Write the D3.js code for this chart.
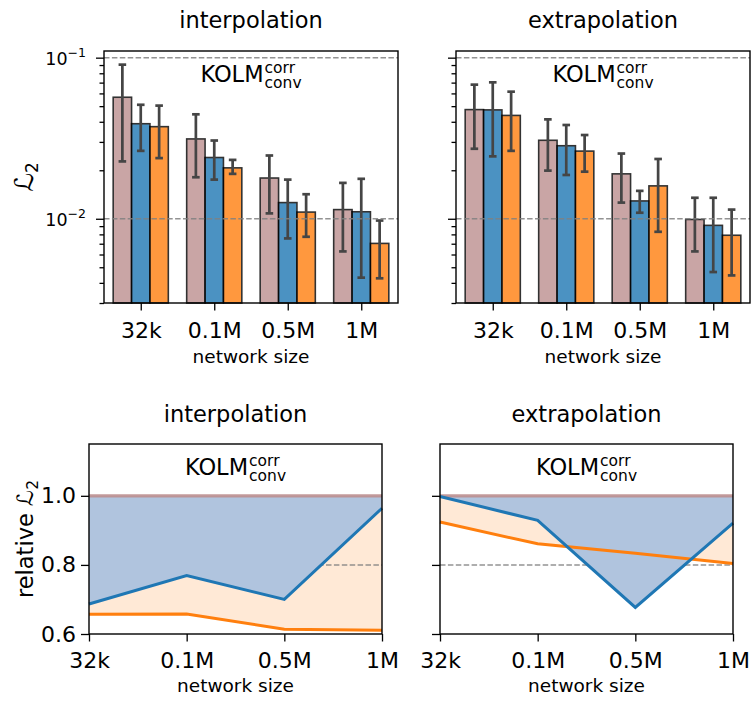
<!DOCTYPE html>
<html>
<head>
<meta charset="utf-8">
<script src="https://cdn.jsdelivr.net/npm/d3@7"></script>
<style>
  body { margin: 0; background: #fff; }
  svg text { font-family: "DejaVu Sans", sans-serif; fill: #000; }
</style>
</head>
<body>
<svg id="fig" width="751" height="702"></svg>
<script>
// categories and tick labels
const categories = ["32k", "0.1M", "0.5M", "1M"];
const logMajorTicks = [0.01, 0.1];
const logMajorLabels = ["−2", "−1"];
const logMinorTicks = [0.003, 0.004, 0.005, 0.006, 0.007, 0.008, 0.009,
                       0.02, 0.03, 0.04, 0.05, 0.06, 0.07, 0.08, 0.09];
const relTicks = [0.6, 0.8, 1.0];

// interpolation, L2 error (bar height) and error-bar range [lo, hi]
const interpRosy = [0.0568, 0.0313, 0.0179, 0.0114];
const interpRosyErr = [[0.0227, 0.0905], [0.0181, 0.0445], [0.0108, 0.0247], [0.00627, 0.0167]];
const interpBlue = [0.0389, 0.0240, 0.0126, 0.01105];
const interpBlueErr = [[0.0264, 0.0510], [0.0175, 0.0306], [0.00755, 0.0175], [0.00431, 0.0177]];
const interpOrange = [0.0373, 0.0207, 0.0110, 0.00703];
const interpOrangeErr = [[0.0238, 0.0504], [0.0190, 0.0232], [0.00773, 0.0142], [0.00427, 0.00975]];

// extrapolation
const extrapRosy = [0.0476, 0.0307, 0.0190, 0.0099];
const extrapRosyErr = [[0.0272, 0.0680], [0.0199, 0.0414], [0.0126, 0.0254], [0.00627, 0.0135]];
const extrapBlue = [0.0474, 0.0284, 0.0129, 0.0091];
const extrapBlueErr = [[0.0244, 0.0703], [0.0187, 0.0382], [0.0109, 0.0149], [0.00467, 0.0135]];
const extrapOrange = [0.0438, 0.0263, 0.0160, 0.0079];
const extrapOrangeErr = [[0.0264, 0.0615], [0.0196, 0.0331], [0.0083, 0.0235], [0.00445, 0.0114]];

// relative L2 (ratio to the rosy series)
const relRosy = [1.0, 1.0, 1.0, 1.0];
const relInterpBlue = [0.687, 0.769, 0.700, 0.964];
const relInterpOrange = [0.657, 0.658, 0.614, 0.611];
const relExtrapBlue = [0.998, 0.929, 0.677, 0.921];
const relExtrapOrange = [0.924, 0.861, 0.834, 0.804];

const rosy = "#bc8f8f", blue = "#1f77b4", orange = "#ff7f0e";
const dashColor = "#808080";

const svg = d3.select("#fig");

// panel boxes
const boxTL = { x0: 104, x1: 398, y0: 51, y1: 303 };
const boxTR = { x0: 456, x1: 750, y0: 51, y1: 303 };
const boxBL = { x0: 89, x1: 382, y0: 444, y1: 634 };
const boxBR = { x0: 440, x1: 733, y0: 444, y1: 634 };

// "KOLM" with stacked super/subscripts, centred in the panel
function kolmLabel(box) {
  const t = svg.append("text")
    .attr("y", box.y0 + 31)
    .style("font-size", "22.5px")
    .text("KOLM");
  const w = t.node().getComputedTextLength();
  const sup = svg.append("text").attr("y", box.y0 + 21.5)
    .style("font-size", "15.5px").text("corr");
  const sub = svg.append("text").attr("y", box.y0 + 36.5)
    .style("font-size", "15.5px").text("conv");
  const sw = Math.max(sup.node().getComputedTextLength(), sub.node().getComputedTextLength());
  const left = (box.x0 + box.x1) / 2 - (w + 1 + sw) / 2;
  t.attr("x", left);
  sup.attr("x", left + w + 1);
  sub.attr("x", left + w + 1);
}

function frame(box) {
  svg.append("rect")
    .attr("x", box.x0).attr("y", box.y0)
    .attr("width", box.x1 - box.x0).attr("height", box.y1 - box.y0)
    .attr("fill", "none").attr("stroke", "#000").attr("stroke-width", 1.4);
}

function title(box, text, baseline) {
  svg.append("text")
    .attr("x", (box.x0 + box.x1) / 2).attr("y", baseline)
    .attr("text-anchor", "middle")
    .style("font-size", "22.5px")
    .text(text);
}

function xLabel(box, baseline) {
  svg.append("text")
    .attr("x", (box.x0 + box.x1) / 2).attr("y", baseline)
    .attr("text-anchor", "middle")
    .style("font-size", "18.5px")
    .text("network size");
}

function styleAxis(g, fontSize) {
  g.select(".domain").remove();
  g.selectAll(".tick line").attr("stroke", "#000").attr("stroke-width", 1.3);
  g.selectAll(".tick text").style("font-size", fontSize).attr("font-family", null);
}

function barPanel(box, series, name, showY) {
  const x = d3.scaleLinear().domain([-0.5, 3.5]).range([box.x0, box.x1]);
  const y = d3.scaleLog().domain([0.003, 0.11]).range([box.y1, box.y0]);
  const offsets = [-0.25, 0, 0.25];
  const bw = x(0.25) - x(0);

  series.forEach((s, i) => {
    svg.append("g").selectAll("rect")
      .data(s.values)
      .enter().append("rect")
      .attr("x", (d, j) => x(j + offsets[i]) - bw / 2)
      .attr("width", bw)
      .attr("y", d => y(d))
      .attr("height", d => box.y1 - y(d))
      .attr("fill", s.color)
      .attr("stroke", "#000")
      .attr("stroke-width", 1.6)
      .attr("opacity", 0.8);
  });

  series.forEach((s, i) => {
    const eg = svg.append("g").attr("stroke", "#454545").attr("stroke-width", 2.7);
    s.err.forEach((e, j) => {
      const cx = x(j + offsets[i]);
      eg.append("line").attr("x1", cx).attr("x2", cx).attr("y1", y(e[0])).attr("y2", y(e[1]));
      eg.append("line").attr("x1", cx - 3.8).attr("x2", cx + 3.8).attr("y1", y(e[0])).attr("y2", y(e[0]));
      eg.append("line").attr("x1", cx - 3.8).attr("x2", cx + 3.8).attr("y1", y(e[1])).attr("y2", y(e[1]));
    });
  });

  svg.append("g").selectAll("line")
    .data(logMajorTicks)
    .enter().append("line")
    .attr("x1", box.x0).attr("x2", box.x1)
    .attr("y1", d => y(d)).attr("y2", d => y(d))
    .attr("stroke", dashColor).attr("stroke-opacity", 0.85)
    .attr("stroke-width", 1.5).attr("stroke-dasharray", "5.5,2.4");

  const gx = svg.append("g")
    .attr("transform", `translate(0,${box.y1})`)
    .call(d3.axisBottom(x).tickValues([0, 1, 2, 3])
      .tickFormat(i => categories[i]).tickSize(7.5).tickPadding(12));
  styleAxis(gx, "22px");

  const gy = svg.append("g")
    .attr("transform", `translate(${box.x0},0)`)
    .call(d3.axisLeft(y).tickValues(logMajorTicks).tickFormat("").tickSize(8));
  styleAxis(gy, "17px");
  const gm = svg.append("g")
    .attr("transform", `translate(${box.x0},0)`)
    .call(d3.axisLeft(y).tickValues(logMinorTicks).tickFormat("").tickSize(4.5));
  styleAxis(gm, "17px");

  if (showY) {
    logMajorTicks.forEach((t, k) => {
      const lbl = svg.append("text")
        .attr("x", box.x0 - 18).attr("y", y(t) + 7)
        .attr("text-anchor", "end")
        .style("font-size", "17.5px");
      lbl.append("tspan").text("10");
      lbl.append("tspan").attr("dy", -7.5).style("font-size", "12.5px").text(logMajorLabels[k]);
    });
    svg.append("text")
      .attr("transform", `translate(33,${(box.y0 + box.y1) / 2}) rotate(-90)`)
      .attr("text-anchor", "middle")
      .style("font-size", "26px")
      .call(t => {
        t.append("tspan").text("ℒ");
        t.append("tspan").attr("dy", 5).style("font-size", "17px").text("2");
      });
  }

  frame(box);
  kolmLabel(box);
  title(box, name, 28);
  xLabel(box, 363);
}

function relPanel(box, blueVals, orangeVals, name, showY) {
  const x = d3.scaleLinear().domain([0, 3]).range([box.x0, box.x1]);
  const y = d3.scaleLinear().domain([0.6, 1.15]).range([box.y1, box.y0]);
  const idx = [0, 1, 2, 3];

  const orangeArea = d3.area()
    .x(i => x(i)).y0(i => y(blueVals[i])).y1(i => y(orangeVals[i]));
  svg.append("path").datum(idx).attr("d", orangeArea)
    .attr("fill", orange).attr("fill-opacity", 0.17);

  svg.append("line")
    .attr("x1", box.x0).attr("x2", box.x1)
    .attr("y1", y(0.8)).attr("y2", y(0.8))
    .attr("stroke", dashColor).attr("stroke-opacity", 0.85)
    .attr("stroke-width", 1.5).attr("stroke-dasharray", "5.5,2.4");

  const blueArea = d3.area()
    .x(i => x(i)).y0(i => y(relRosy[i])).y1(i => y(blueVals[i]));
  svg.append("path").datum(idx).attr("d", blueArea)
    .attr("fill", "#b0c4de");

  const line = vals => d3.line().x(i => x(i)).y(i => y(vals[i]))(idx);
  svg.append("path").attr("d", line(relRosy))
    .attr("fill", "none").attr("stroke", rosy).attr("stroke-width", 3.2).attr("stroke-opacity", 0.9);
  svg.append("path").attr("d", line(orangeVals))
    .attr("fill", "none").attr("stroke", orange).attr("stroke-width", 3);
  svg.append("path").attr("d", line(blueVals))
    .attr("fill", "none").attr("stroke", blue).attr("stroke-width", 3);

  const gx = svg.append("g")
    .attr("transform", `translate(0,${box.y1})`)
    .call(d3.axisBottom(x).tickValues(idx)
      .tickFormat(i => categories[i]).tickSize(7.5).tickPadding(11));
  styleAxis(gx, "22px");

  const gy = svg.append("g")
    .attr("transform", `translate(${box.x0},0)`)
    .call(d3.axisLeft(y).tickValues(relTicks)
      .tickFormat(showY ? d3.format(".1f") : "").tickSize(8).tickPadding(5));
  styleAxis(gy, "22px");

  if (showY) {
    svg.append("text")
      .attr("transform", `translate(33,${(box.y0 + box.y1) / 2}) rotate(-90)`)
      .attr("text-anchor", "middle")
      .style("font-size", "22.5px")
      .call(t => {
        t.append("tspan").text("relative ℒ");
        t.append("tspan").attr("dy", 5).style("font-size", "15.5px").text("2");
      });
  }

  frame(box);
  kolmLabel(box);
  title(box, name, 422);
  xLabel(box, 692);
}

barPanel(boxTL, [
  { values: interpRosy, err: interpRosyErr, color: rosy },
  { values: interpBlue, err: interpBlueErr, color: blue },
  { values: interpOrange, err: interpOrangeErr, color: orange }
], "interpolation", true);

barPanel(boxTR, [
  { values: extrapRosy, err: extrapRosyErr, color: rosy },
  { values: extrapBlue, err: extrapBlueErr, color: blue },
  { values: extrapOrange, err: extrapOrangeErr, color: orange }
], "extrapolation", false);

relPanel(boxBL, relInterpBlue, relInterpOrange, "interpolation", true);
relPanel(boxBR, relExtrapBlue, relExtrapOrange, "extrapolation", false);
</script>
</body>
</html>
